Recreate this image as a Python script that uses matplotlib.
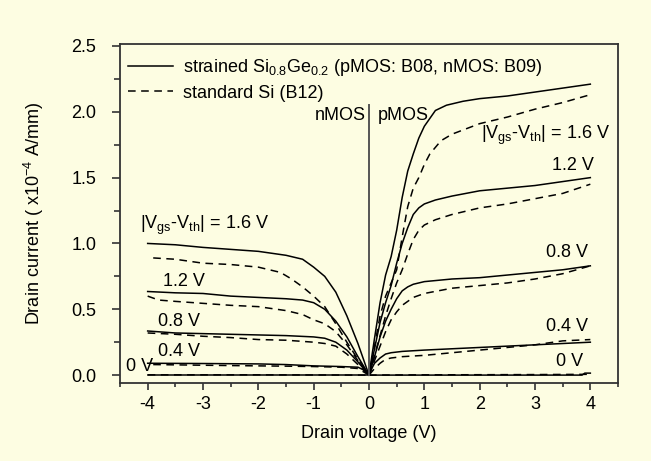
import matplotlib
matplotlib.use("Agg")
import matplotlib.pyplot as plt
from matplotlib.ticker import MultipleLocator, FormatStrFormatter

plt.rcParams['font.family'] = ['Liberation Sans', 'DejaVu Sans']
plt.rcParams['mathtext.default'] = 'regular'

# ---- pMOS (positive drain voltage) ----
p16_solid_v = [0, 0.1, 0.2, 0.3, 0.4, 0.5, 0.6, 0.7, 0.8, 0.9, 1.0, 1.1, 1.2, 1.4, 1.7, 2.0, 2.5, 3.0, 3.5, 4.0]
p16_solid_i = [0, 0.28, 0.55, 0.76, 0.9, 1.1, 1.35, 1.55, 1.68, 1.8, 1.89, 1.95, 2.01, 2.05, 2.08, 2.1, 2.12, 2.15, 2.18, 2.21]
p16_dash_v = [0, 0.1, 0.2, 0.3, 0.4, 0.5, 0.6, 0.7, 0.8, 0.9, 1.0, 1.1, 1.3, 1.5, 1.75, 2.0, 2.5, 3.0, 3.5, 4.0]
p16_dash_i = [0, 0.22, 0.45, 0.6, 0.7, 0.8, 1.05, 1.28, 1.42, 1.5, 1.6, 1.68, 1.78, 1.83, 1.87, 1.91, 1.96, 2.02, 2.07, 2.13]

p12_solid_v = [0, 0.1, 0.2, 0.3, 0.4, 0.5, 0.6, 0.7, 0.8, 0.9, 1.0, 1.2, 1.5, 2.0, 2.5, 3.0, 3.5, 4.0]
p12_solid_i = [0, 0.2, 0.4, 0.55, 0.68, 0.85, 1.0, 1.12, 1.22, 1.27, 1.3, 1.33, 1.36, 1.40, 1.42, 1.44, 1.47, 1.50]
p12_dash_v = [0, 0.1, 0.2, 0.3, 0.4, 0.5, 0.6, 0.7, 0.8, 0.9, 1.0, 1.2, 1.5, 2.0, 2.5, 3.0, 3.5, 4.0]
p12_dash_i = [0, 0.15, 0.3, 0.45, 0.58, 0.7, 0.8, 0.92, 1.03, 1.1, 1.14, 1.18, 1.22, 1.27, 1.3, 1.34, 1.38, 1.45]

p08_solid_v = [0, 0.1, 0.2, 0.3, 0.4, 0.5, 0.6, 0.7, 0.8, 1.0, 1.5, 2.0, 2.5, 3.0, 3.5, 4.0]
p08_solid_i = [0, 0.14, 0.29, 0.41, 0.5, 0.58, 0.64, 0.67, 0.69, 0.71, 0.73, 0.74, 0.76, 0.78, 0.80, 0.83]
p08_dash_v = [0, 0.1, 0.2, 0.3, 0.4, 0.5, 0.6, 0.7, 0.8, 1.0, 1.5, 2.0, 2.5, 3.0, 3.5, 4.0]
p08_dash_i = [0, 0.11, 0.22, 0.33, 0.42, 0.48, 0.53, 0.56, 0.59, 0.62, 0.66, 0.68, 0.70, 0.73, 0.77, 0.83]

p04_solid_v = [0, 0.05, 0.1, 0.2, 0.3, 0.4, 0.6, 1.0, 1.5, 2.0, 2.5, 3.0, 3.5, 4.0]
p04_solid_i = [0, 0.05, 0.09, 0.13, 0.16, 0.17, 0.18, 0.19, 0.2, 0.21, 0.22, 0.23, 0.24, 0.25]
p04_dash_v = [0, 0.1, 0.2, 0.3, 0.4, 0.6, 1.0, 1.5, 2.0, 2.5, 3.0, 3.5, 4.0]
p04_dash_i = [0, 0.05, 0.09, 0.12, 0.13, 0.14, 0.15, 0.17, 0.19, 0.21, 0.23, 0.26, 0.27]

p00_solid_v = [0, 1.0, 2.0, 3.0, 3.85, 3.9, 4.0]
p00_solid_i = [0, 0, 0, 0, 0, 0.015, 0.015]
p00_dash_v = [0, 1.0, 2.0, 3.0, 4.0]
p00_dash_i = [0, 0.002, 0.003, 0.004, 0.006]

# ---- nMOS (negative drain voltage) ----
n16_solid_v = [-4, -3.5, -3, -2.5, -2, -1.5, -1.2, -1.0, -0.8, -0.6, -0.4, -0.2, 0]
n16_solid_i = [1.0, 0.99, 0.97, 0.955, 0.94, 0.91, 0.88, 0.82, 0.75, 0.63, 0.45, 0.24, 0]
n16_dash_v = [-3.9, -3.5, -3, -2.5, -2, -1.6, -1.4, -1.2, -1.0, -0.8, -0.6, -0.4, -0.2, 0]
n16_dash_i = [0.89, 0.88, 0.85, 0.84, 0.82, 0.78, 0.73, 0.67, 0.60, 0.52, 0.39, 0.25, 0.12, 0]

n12_solid_v = [-4, -3.5, -3, -2.5, -2, -1.5, -1.2, -1.0, -0.8, -0.6, -0.4, -0.2, 0]
n12_solid_i = [0.635, 0.625, 0.62, 0.60, 0.59, 0.58, 0.57, 0.55, 0.50, 0.41, 0.29, 0.14, 0]
n12_dash_v = [-4, -3.8, -3.5, -3, -2.5, -2, -1.5, -1.2, -1.0, -0.8, -0.6, -0.4, -0.2, 0]
n12_dash_i = [0.6, 0.57, 0.56, 0.545, 0.53, 0.52, 0.49, 0.46, 0.42, 0.39, 0.33, 0.23, 0.11, 0]

n08_solid_v = [-4, -3.5, -3, -2.5, -2, -1.5, -1.0, -0.8, -0.6, -0.4, -0.2, 0]
n08_solid_i = [0.335, 0.32, 0.315, 0.31, 0.305, 0.30, 0.29, 0.28, 0.25, 0.19, 0.1, 0]
n08_dash_v = [-4, -3.5, -3, -2.5, -2, -1.5, -1.0, -0.8, -0.6, -0.4, -0.2, 0]
n08_dash_i = [0.32, 0.31, 0.295, 0.285, 0.27, 0.265, 0.25, 0.24, 0.22, 0.16, 0.08, 0]

n04_solid_v = [-4, -3, -2, -1.5, -1.0, -0.5, -0.2, -0.1, 0]
n04_solid_i = [0.09, 0.088, 0.085, 0.08, 0.07, 0.065, 0.06, 0.04, 0]
n04_dash_v = [-3.9, -3, -2, -1.5, -1.0, -0.5, -0.2, 0]
n04_dash_i = [0.08, 0.075, 0.07, 0.068, 0.065, 0.06, 0.05, 0]

n00_solid_v = [-4, -2, 0]
n00_solid_i = [0, 0, 0]
n00_dash_v = [-4, -2, 0]
n00_dash_i = [0.002, 0.002, 0]

solid_sets = [(p16_solid_v, p16_solid_i), (p12_solid_v, p12_solid_i), (p08_solid_v, p08_solid_i),
              (p04_solid_v, p04_solid_i), (p00_solid_v, p00_solid_i),
              (n16_solid_v, n16_solid_i), (n12_solid_v, n12_solid_i), (n08_solid_v, n08_solid_i),
              (n04_solid_v, n04_solid_i), (n00_solid_v, n00_solid_i)]
dash_sets = [(p16_dash_v, p16_dash_i), (p12_dash_v, p12_dash_i), (p08_dash_v, p08_dash_i),
             (p04_dash_v, p04_dash_i), (p00_dash_v, p00_dash_i),
             (n16_dash_v, n16_dash_i), (n12_dash_v, n12_dash_i), (n08_dash_v, n08_dash_i),
             (n04_dash_v, n04_dash_i), (n00_dash_v, n00_dash_i)]

legend_labels = ["strained Si$_{0.8}$Ge$_{0.2}$ (pMOS: B08, nMOS: B09)", "standard Si (B12)"]

BG = '#FDFDE2'
FS = 13

fig = plt.figure(figsize=(6.51, 4.61), dpi=100, facecolor=BG)
ax = fig.add_axes([120/651, 1-383/461, 498/651, 339/461])
ax.set_facecolor(BG)

for k, (v, i) in enumerate(solid_sets):
    ax.plot(v, i, color='black', lw=1.1, label=legend_labels[0] if k == 0 else None)
for k, (v, i) in enumerate(dash_sets):
    ax.plot(v, i, color='black', lw=1.1, dashes=(5, 3.6), label=legend_labels[1] if k == 0 else None)

# divider nMOS | pMOS
ax.plot([0, 0], [0, 2.05], color='#555555', lw=1.4)

ax.set_xlim(-4.5, 4.5)
ax.set_ylim(-0.06, 2.515)
ax.xaxis.set_major_locator(MultipleLocator(1))
ax.xaxis.set_minor_locator(MultipleLocator(0.5))
ax.yaxis.set_major_locator(MultipleLocator(0.5))
ax.yaxis.set_minor_locator(MultipleLocator(0.25))
ax.yaxis.set_major_formatter(FormatStrFormatter('%.1f'))
ax.xaxis.set_major_formatter(FormatStrFormatter('%g'))

for s in ax.spines.values():
    s.set_linewidth(1.3)
    s.set_color('#333333')
ax.tick_params(axis='both', which='both', direction='out', top=False, right=False,
               colors='#333333', labelcolor='black', width=1.2, labelsize=FS)
ax.tick_params(axis='x', which='major', length=5, pad=4)
ax.tick_params(axis='x', which='minor', length=3)
ax.tick_params(axis='y', which='major', length=6, pad=11)
ax.tick_params(axis='y', which='minor', length=4)

ax.set_xlabel('Drain voltage (V)', fontsize=FS, labelpad=9)
ax.set_ylabel('Drain current ( x10$^{\u22124}$ A/mm)', fontsize=FS, labelpad=18)

leg = ax.legend(loc='upper left', bbox_to_anchor=(0.016, 0.962), frameon=False, fontsize=FS,
                handlelength=2.5, handletextpad=0.55, labelspacing=0.38, borderpad=0, borderaxespad=0)

# annotations
ax.text(-0.05, 1.97, 'nMOS', ha='right', va='center', fontsize=FS)
ax.text(0.16, 1.97, 'pMOS', ha='left', va='center', fontsize=FS)
ax.text(2.03, 1.82, '|V$_{gs}$-V$_{th}$| = 1.6 V', ha='left', va='center', fontsize=FS)
ax.text(4.07, 1.59, '1.2 V', ha='right', va='center', fontsize=FS)
ax.text(3.96, 0.93, '0.8 V', ha='right', va='center', fontsize=FS)
ax.text(3.96, 0.37, '0.4 V', ha='right', va='center', fontsize=FS)
ax.text(3.87, 0.10, '0 V', ha='right', va='center', fontsize=FS)

ax.text(-4.13, 1.14, '|V$_{gs}$-V$_{th}$| = 1.6 V', ha='left', va='center', fontsize=FS)
ax.text(-3.35, 0.71, '1.2 V', ha='center', va='center', fontsize=FS)
ax.text(-3.44, 0.405, '0.8 V', ha='center', va='center', fontsize=FS)
ax.text(-3.44, 0.177, '0.4 V', ha='center', va='center', fontsize=FS)
ax.text(-4.14, 0.063, '0 V', ha='center', va='center', fontsize=FS)

fig.savefig('out.png', dpi=100, facecolor=BG)
